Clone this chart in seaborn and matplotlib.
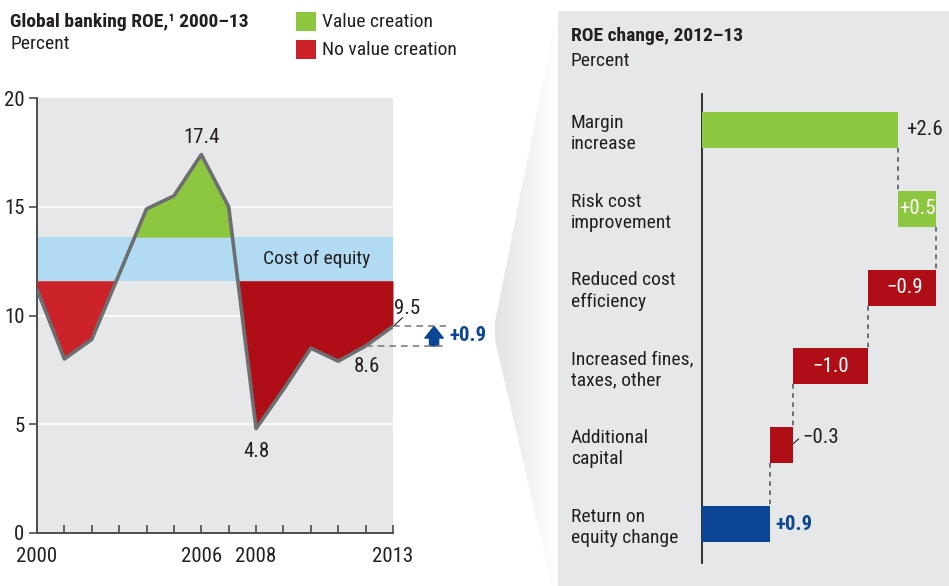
import numpy as np
import pandas as pd
import matplotlib
matplotlib.use("Agg")
import matplotlib.pyplot as plt
import matplotlib.transforms as mtransforms
from matplotlib.patches import Polygon, Rectangle
from matplotlib import font_manager as fm
import seaborn as sns

# ---------------- data ----------------
years = [2000, 2001, 2002, 2003, 2004, 2005, 2006, 2007, 2008, 2009, 2010, 2011, 2012, 2013]
roe = [11.2, 8.0, 8.9, 11.9, 14.9, 15.5, 17.4, 15.0, 4.8, 6.6, 8.5, 7.9, 8.6, 9.5]
coe_low, coe_high = 11.6, 13.6
xtick_labels = ["2000", "2006", "2008", "2013"]

wf_categories = ["Margin\nincrease", "Risk cost\nimprovement", "Reduced cost\nefficiency",
                 "Increased fines,\ntaxes, other", "Additional\ncapital", "Return on\nequity change"]
wf_values = [2.6, 0.5, -0.9, -1.0, -0.3, 0.9]
wf_labels = ["+2.6", "+0.5", "\u22120.9", "\u22121.0", "\u22120.3", "+0.9"]

# ---------------- style ----------------
sns.set_theme(style="white")
names = {f.name for f in fm.fontManager.ttflist}
fam = "DejaVu Sans"
for cand in ["Roboto Condensed", "Archivo Narrow", "Barlow Semi Condensed", "Asap Condensed", "Liberation Sans"]:
    if cand in names:
        fam = cand
        break
plt.rcParams["font.family"] = [fam, "DejaVu Sans"]

FS = 14          # body text
FST = 15         # tick labels / data labels

GREEN = "#8DC63F"
RED1 = "#CC2229"
RED2 = "#B00E16"
BAND = "#B1DAF3"
BLUE = "#0B4594"
LINE = "#6D6E70"
PANEL = "#E6E7E9"
TXT = "#231F20"

W, H = 949, 586
fig = plt.figure(figsize=(W / 100, H / 100), dpi=100)

def fx(px):
    return px / W

def fy(py):
    return 1 - py / H

# background layer in pixel coords
bg = fig.add_axes([0, 0, 1, 1], zorder=-10)
bg.set_xlim(0, W)
bg.set_ylim(H, 0)
bg.axis("off")
bg.add_patch(Rectangle((558, 11), W - 558, H - 11, color=PANEL, lw=0))
poly = Polygon([(557, 11), (495, 322), (495, 340), (552, 586), (557, 586)], closed=True,
               facecolor="none", edgecolor="none")
bg.add_patch(poly)
grad = np.linspace(0, 1, 64)[None, :]
im = bg.imshow(grad, extent=(495, 557, 586, 11), aspect="auto",
               cmap=matplotlib.colors.LinearSegmentedColormap.from_list("g", ["#E2E3E5", "#FFFFFF"]),
               zorder=1)
im.set_clip_path(poly)

# ---------------- left chart ----------------
ax = fig.add_axes([fx(37), fy(533), fx(393) - fx(37), fy(98) - fy(533)])
ax.set_facecolor(PANEL)
df = pd.DataFrame({"year": years, "roe": roe})
yr = np.array(years, dtype=float)
rv = np.array(roe)

for g in (5, 10, 15):
    ax.axhline(g, color="white", lw=1.2, zorder=1)
ax.axhspan(coe_low, coe_high, color=BAND, lw=0, zorder=2)
ax.fill_between(yr, coe_high, rv, where=rv >= coe_high, interpolate=True, color=GREEN, lw=0, zorder=3)
ax.fill_between(yr, coe_low, rv, where=(rv <= coe_low) & (yr <= 2004), interpolate=True, color=RED1, lw=0, zorder=3)
ax.fill_between(yr, coe_low, rv, where=(rv <= coe_low) & (yr >= 2006), interpolate=True, color=RED2, lw=0, zorder=3)
sns.lineplot(data=df, x="year", y="roe", ax=ax, color=LINE, lw=2.6, zorder=4)

ax.set_xlim(2000, 2013)
ax.set_ylim(0, 20)
ax.set_xlabel("")
ax.set_ylabel("")
ax.set_yticks([0, 5, 10, 15, 20])
ax.set_yticklabels(["0", "5", "10", "15", "20"])
ax.set_xticks(years)
ax.set_xticklabels([str(y) if str(y) in xtick_labels else "" for y in years])
for s in ("top", "right"):
    ax.spines[s].set_visible(False)
for s in ("left", "bottom"):
    ax.spines[s].set_color("#4D4D4F")
    ax.spines[s].set_linewidth(1.4)
ax.tick_params(axis="y", direction="out", length=6, width=1.2, color="#4D4D4F", labelsize=FST,
               labelcolor=TXT, pad=3, left=True)
ax.tick_params(axis="x", direction="in", length=6, width=1.2, color="#4D4D4F", labelsize=FST,
               labelcolor=TXT, pad=10, bottom=True)
ax.grid(False)

ax.text(2006, 17.4 + 0.8, "17.4", ha="center", va="center", fontsize=FST, color=TXT, zorder=5)
ax.text(2008, 4.8 - 1.05, "4.8", ha="center", va="center", fontsize=FST, color=TXT, zorder=5)
ax.text(2012.05, 8.6 - 0.95, "8.6", ha="center", va="center", fontsize=FST, color=TXT, zorder=5)
ax.text(2013.5, 10.3, "9.5", ha="center", va="center", fontsize=FST, color=TXT, zorder=5, clip_on=False)
ax.plot([2013.05, 2013.35], [9.55, 9.9], color=TXT, lw=0.8, clip_on=False, zorder=5)

# change indicator
ax.plot([2013, 2014.95], [roe[-1], roe[-1]], ls=(0, (4, 3)), color="#7F7F7F", lw=1.2, clip_on=False, zorder=5)
ax.plot([2012, 2014.95], [roe[-2], roe[-2]], ls=(0, (4, 3)), color="#7F7F7F", lw=1.2, clip_on=False, zorder=5)
ax.annotate("", xy=(2014.5, roe[-1]), xytext=(2014.5, roe[-2]), annotation_clip=False,
            arrowprops=dict(arrowstyle="simple,head_width=1.1,head_length=0.7,tail_width=0.55",
                            color=BLUE, shrinkA=0, shrinkB=0, mutation_scale=12))
ax.text(2015.05, (roe[-1] + roe[-2]) / 2 + 0.05, "+%.1f" % (roe[-1] - roe[-2]), ha="left", va="center",
        fontsize=FST, fontweight="bold", color=BLUE, clip_on=False)

# titles & legend
fig.text(fx(10), fy(22), "Global banking ROE,\u00b9 2000\u201313", ha="left", va="center",
         fontsize=FS, fontweight="bold", color=TXT)
fig.text(fx(10), fy(44), "Percent", ha="left", va="center", fontsize=FS, color=TXT)
ax.text(2010.2, 12.6, "Cost of equity", ha="center", va="center", fontsize=FS, color=TXT, zorder=5)

bg.add_patch(Rectangle((296, 12), 20, 19, color=GREEN, lw=0))
bg.add_patch(Rectangle((296, 40), 20, 19, color=RED1, lw=0))
bg.text(322, 22, "Value creation", ha="left", va="center", fontsize=FS, color=TXT)
bg.text(322, 50, "No value creation", ha="left", va="center", fontsize=FS, color=TXT)

# ---------------- right waterfall ----------------
px_per_unit = 75.5
axr = fig.add_axes([fx(702), fy(563), fx(W) - fx(702), fy(94) - fy(563)])
axr.set_facecolor("none")
n = len(wf_values)
pos = np.arange(n)
starts = []
cum = 0.0
for i, v in enumerate(wf_values):
    if i == n - 1:
        starts.append(0.0)
    else:
        starts.append(cum)
        cum += v
starts = np.array(starts)
vals = np.array(wf_values)
lefts = np.where(vals >= 0, starts, starts + vals)
lefts[-1] = 0.0
widths = np.abs(vals)
colors = [GREEN, GREEN, RED2, RED2, RED2, BLUE]
bar_h = 36 / 78.8
axr.barh(pos, widths, left=lefts, height=bar_h, color=colors, lw=0, zorder=3)
axr.set_xlim(0, (W - 702) / px_per_unit)
axr.set_ylim(n - 1 + (563 - 524) / 78.8, -(130 - 94) / 78.8)
for s in ("top", "right", "bottom"):
    axr.spines[s].set_visible(False)
axr.spines["left"].set_color(TXT)
axr.spines["left"].set_linewidth(1.3)
axr.set_xticks([])
axr.set_yticks([])
axr.grid(False)

ends = starts + vals
ends[-1] = vals[-1]
for i in range(n - 1):
    xcon = ends[i]
    axr.plot([xcon, xcon], [i + bar_h / 2, i + 1 - bar_h / 2], ls=(0, (3, 3)), color="#4D4D4F",
             lw=1.1, zorder=2)

# value labels
axr.text(ends[0] + 0.1, 0, wf_labels[0], ha="left", va="center", fontsize=FST, color=TXT)
axr.text(lefts[1] + widths[1] / 2, 1, wf_labels[1], ha="center", va="center", fontsize=FST, color="white")
axr.text(lefts[2] + widths[2] / 2 + 0.03, 2, wf_labels[2], ha="center", va="center", fontsize=FST, color="white")
axr.text(lefts[3] + widths[3] / 2, 3, wf_labels[3], ha="center", va="center", fontsize=FST, color="white")
axr.text(lefts[4] + widths[4] + 0.13, 4 - 0.1, wf_labels[4], ha="left", va="center", fontsize=FST, color=TXT)
axr.plot([lefts[4] + widths[4] - 0.04, lefts[4] + widths[4] + 0.08], [4.02, 3.92], color=TXT, lw=0.8)
axr.text(ends[5] + 0.07, 5, wf_labels[5], ha="left", va="center", fontsize=FST, fontweight="bold", color=BLUE)

trans = mtransforms.blended_transform_factory(fig.transFigure, axr.transData)
for i, c in enumerate(wf_categories):
    axr.text(fx(571), i + 0.045, c, transform=trans, ha="left", va="center", fontsize=FS, color=TXT,
             linespacing=1.25, clip_on=False)

fig.text(fx(571), fy(36), "ROE change, 2012\u201313", ha="left", va="center", fontsize=FS,
         fontweight="bold", color=TXT)
fig.text(fx(571), fy(61), "Percent", ha="left", va="center", fontsize=FS, color=TXT)

fig.savefig("out.png", dpi=100)
